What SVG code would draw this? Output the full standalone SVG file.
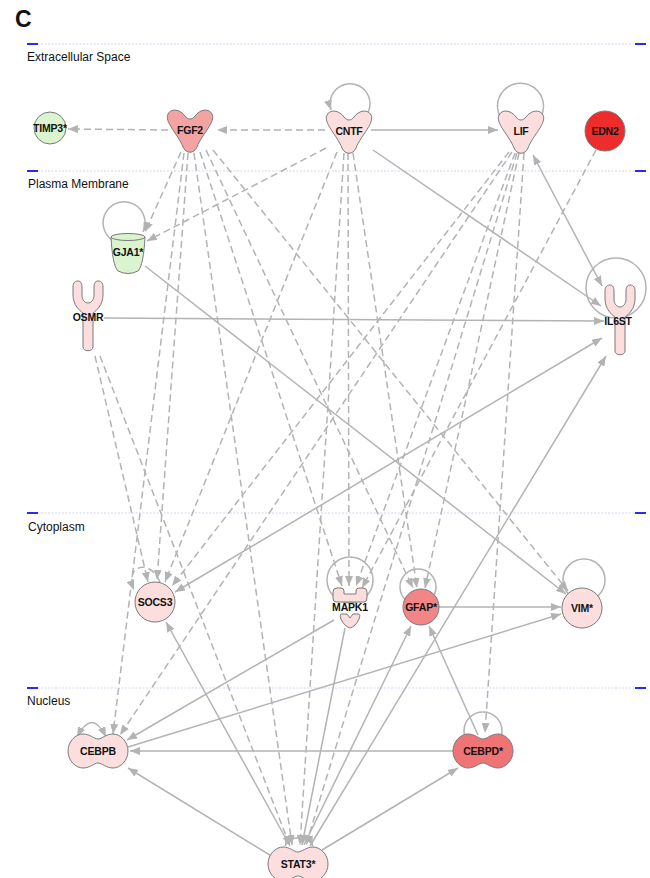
<svg xmlns="http://www.w3.org/2000/svg" width="650" height="878" viewBox="0 0 650 878">
<style>
.sec{stroke:#e9e9f8;stroke-width:2;stroke-dasharray:2,1.5}
.bl{stroke:#2b2bee;stroke-width:2}
.st{font-family:"Liberation Sans",Arial,sans-serif;font-size:12px;fill:#111}
.lb{font-family:"Liberation Sans",Arial,sans-serif;font-size:10.5px;font-weight:bold;fill:#111;text-anchor:middle;letter-spacing:-0.2px}
.s{fill:none;stroke:#b3b3b3;stroke-width:1.5;marker-end:url(#a)}
.d{fill:none;stroke:#b3b3b3;stroke-width:1.5;stroke-dasharray:7,4;marker-end:url(#a)}
.b{marker-start:url(#a)}
.n{marker-end:none}
.nd{stroke:#7a7a7a;stroke-width:1}
.pk{fill:#fcdede}
.rd1{fill:#f4a3a3}
.rd2{fill:#f28585}
.rd3{fill:#ef7474}
.rd4{fill:#ee2c2c}
.gr{fill:#d9f4cf}
</style>
<defs>
<marker id="a" viewBox="0 0 10 8" refX="10" refY="4" markerWidth="10" markerHeight="8" markerUnits="userSpaceOnUse" orient="auto-start-reverse"><path d="M0,0 L10,4 L0,8 z" fill="#b3b3b3"/></marker>
<path id="vshape" d="M -22,-16 C -26,-8 -12,4 -7,17 C -4,24 4,24 7,17 C 12,4 26,-8 22,-16 C 19,-22 10,-21 5,-14 C 2,-10 -2,-10 -5,-14 C -10,-21 -19,-22 -22,-16 Z"/>
<path id="yshape" d="M -10,-36 C -14,-36 -15,-33 -15,-30 L -15,-22 C -15,-12 -8,-6 -5,-4 L -5,30 C -5,35 5,35 5,30 L 5,-4 C 8,-6 15,-12 15,-22 L 15,-30 C 15,-33 14,-36 10,-36 C 7,-36 6,-33 6,-30 L 6,-22 C 6,-17 3,-14 0,-14 C -3,-14 -6,-17 -6,-22 L -6,-30 C -6,-33 -7,-36 -10,-36 Z"/>
<path id="peanut" d="M -15,-17 C -22,-17 -30,-10 -30,0 C -30,10 -22,17 -15,17 C -8,17 -4,12 0,12 C 4,12 8,17 15,17 C 22,17 30,10 30,0 C 30,-10 22,-17 15,-17 C 8,-17 4,-12 0,-12 C -4,-12 -8,-17 -15,-17 Z"/>
</defs>
<rect width="650" height="878" fill="#ffffff"/>
<text x="15" y="27" font-family="Liberation Sans,Arial,sans-serif" font-size="23" font-weight="bold" fill="#111">C</text>
<g id="compartments">
<line class="sec" x1="27" y1="44" x2="645" y2="44"/>
<line class="sec" x1="27" y1="171" x2="645" y2="171"/>
<line class="sec" x1="27" y1="513" x2="645" y2="513"/>
<line class="sec" x1="27" y1="688" x2="645" y2="688"/>
<line class="bl" x1="27" y1="44" x2="38" y2="44"/><line class="bl" x1="635" y1="44" x2="646" y2="44"/>
<line class="bl" x1="27" y1="171" x2="38" y2="171"/><line class="bl" x1="635" y1="171" x2="646" y2="171"/>
<line class="bl" x1="27" y1="513" x2="38" y2="513"/><line class="bl" x1="635" y1="513" x2="646" y2="513"/>
<line class="bl" x1="27" y1="688" x2="38" y2="688"/><line class="bl" x1="635" y1="688" x2="646" y2="688"/>
<text class="st" x="27" y="61">Extracellular Space</text>
<text class="st" x="28" y="188">Plasma Membrane</text>
<text class="st" x="28" y="531">Cytoplasm</text>
<text class="st" x="27" y="705">Nucleus</text>
</g>
<g id="connectors">
<path class="d" d="M168,130 L68,129"/>
<path class="d" d="M325,130 L217,130"/>
<path class="d" d="M181,152 L145,232"/>
<path class="d" d="M326,148 L147,241"/>
<path class="d" d="M184,153 L113,734"/>
<path class="d" d="M188,153 L157,580"/>
<path class="d" d="M194,153 L292,845"/>
<path class="d" d="M200,152 L342,586"/>
<path class="d" d="M206,150 L413,588"/>
<path class="d" d="M213,150 L568,591"/>
<path class="d" d="M337,152 L165,582"/>
<path class="d" d="M348,153 L349,586"/>
<path class="d" d="M344,153 L300,845"/>
<path class="d" d="M353,153 L417,588"/>
<path class="d" d="M509,152 L172,586"/>
<path class="d" d="M512,152 L120,735"/>
<path class="d" d="M515,153 L356,586"/>
<path class="d" d="M519,153 L425,588"/>
<path class="d" d="M517,153 L306,845"/>
<path class="d" d="M524,153 L485,733"/>
<path class="d" d="M596,150 L362,588"/>
<path class="d" d="M95,356 L148,582"/>
<path class="d" d="M100,356 L290,846"/>
<path class="d" d="M160,582 C150,558 124,565 134,590"/>
<path class="s" d="M371,130 L498,130"/>
<path class="s" d="M373,150 L601,306"/>
<path class="s b" d="M602,286 L533,155"/>
<path class="s" d="M104,318 L604,321"/>
<path class="s" d="M145,266 L566,594"/>
<path class="s b" d="M602,338 L175,592"/>
<path class="s" d="M310,846 L606,356"/>
<path class="s" d="M290,846 L166,622"/>
<path class="s" d="M278,860 L128,768"/>
<path class="s" d="M322,850 L458,768"/>
<path class="s" d="M453,751 L130,751"/>
<path class="s" d="M334,620 L127,740"/>
<path class="s" d="M128,747 L561,614"/>
<path class="s" d="M439,607 L561,607"/>
<path class="s" d="M304,845 L411,626"/>
<path class="s" d="M478,735 L429,626"/>
<path class="s" d="M345,628 L302,845"/>
<path class="s" d="M363,119 A20 20 0 1 0 331,110"/>
<path class="s n" d="M506,124 A23 23 0 1 1 535,124"/>
<path class="s" d="M112,240 A21 21 0 1 1 143,232"/>
<circle class="s n" cx="616" cy="288" r="30"/>
<circle class="s n" cx="350" cy="580" r="23"/>
<circle class="s n" cx="418" cy="587" r="18"/>
<circle class="s n" cx="584" cy="580" r="21"/>
<circle class="s n" cx="483" cy="731" r="19"/>
<path class="s b" d="M106,737 Q92,708 77,737"/>
<path class="s b" d="M285,846 A15 13 0 0 1 313,846"/>
</g>
<g id="TIMP3"><circle class="nd gr" cx="50" cy="128" r="16"/><text class="lb" x="50" y="131.5">TIMP3*</text></g>
<g id="FGF2"><use href="#vshape" class="nd rd1" transform="translate(190,130)"/><text class="lb" x="190" y="134">FGF2</text></g>
<g id="CNTF"><use href="#vshape" class="nd pk" transform="translate(349,131)"/><text class="lb" x="349" y="135">CNTF</text></g>
<g id="LIF"><use href="#vshape" class="nd pk" transform="translate(521,131)"/><text class="lb" x="521" y="135">LIF</text></g>
<g id="EDN2"><circle class="nd rd4" cx="605" cy="131" r="20"/><text class="lb" x="605" y="135">EDN2</text></g>
<g id="GJA1"><path class="nd gr" d="M111,237 C112,255 114,267 118,271 Q128,276 138,271 C142,267 144,255 145,237 Z"/><ellipse cx="128" cy="237" rx="17" ry="3.5" fill="#d9f4cf" stroke="#7a7a7a" stroke-width="1"/><text class="lb" x="128" y="256">GJA1*</text></g>
<g id="OSMR"><use href="#yshape" class="nd pk" transform="translate(88,317)"/><text class="lb" x="88" y="321">OSMR</text></g>
<g id="IL6ST"><use href="#yshape" class="nd pk" transform="translate(620,321)"/><text class="lb" x="618" y="325">IL6ST</text></g>
<g id="SOCS3"><circle class="nd pk" cx="155" cy="602" r="20"/><text class="lb" x="155" y="606">SOCS3</text></g>
<g id="MAPK1"><path class="nd pk" d="M333,598 L333,592 Q333,588 337,588 L341,588 Q344,588 344,591 L344,594 L356,594 L356,591 Q356,588 359,588 L363,588 Q367,588 367,592 L367,598 Q367,602 364,602 L336,602 Q333,602 333,598 Z"/><path class="nd pk" d="M342,614 L347,614 L350,618 L353,614 L358,614 Q361,614 359,619 Q356,626 350,628 Q344,626 341,619 Q339,614 342,614 Z"/><text class="lb" x="350" y="610.5">MAPK1</text></g>
<g id="GFAP"><circle class="nd rd2" cx="421" cy="607" r="18"/><text class="lb" x="421" y="611">GFAP*</text></g>
<g id="VIM"><circle class="nd pk" cx="582" cy="608" r="20"/><text class="lb" x="582" y="612">VIM*</text></g>
<g id="CEBPB"><use href="#peanut" class="nd pk" transform="translate(98,751)"/><text class="lb" x="98" y="755">CEBPB</text></g>
<g id="CEBPD"><use href="#peanut" class="nd rd3" transform="translate(483,751)"/><text class="lb" x="483" y="755">CEBPD*</text></g>
<g id="STAT3"><use href="#peanut" class="nd pk" transform="translate(298,864)"/><text class="lb" x="298" y="868">STAT3*</text></g>
</svg>
